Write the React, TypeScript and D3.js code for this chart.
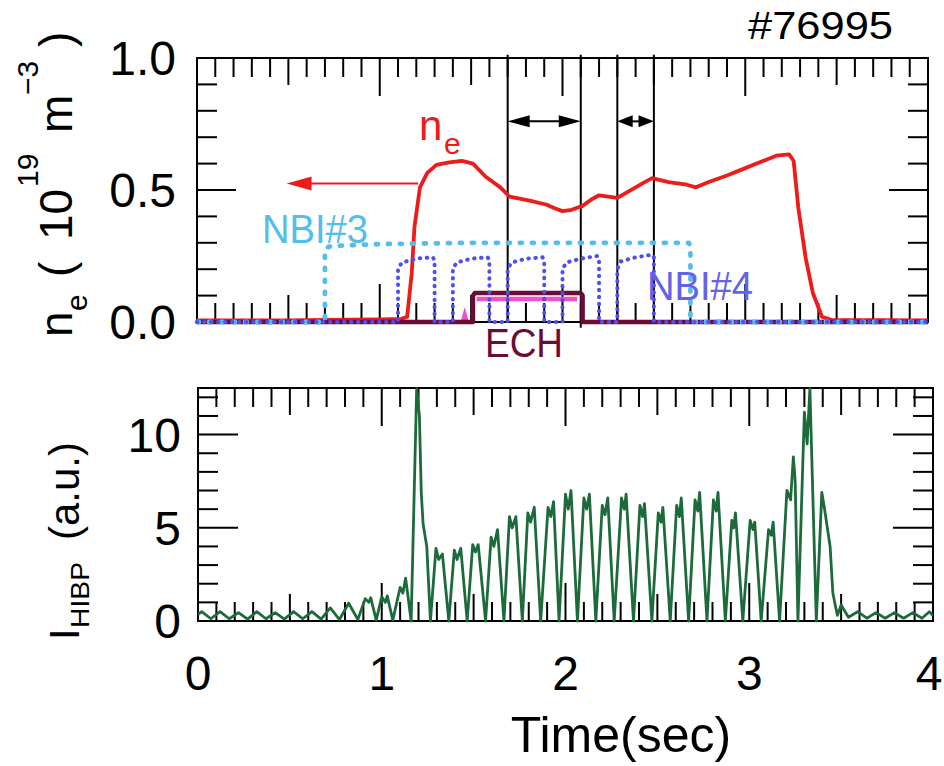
import React from "react";
import * as d3 from "d3";

const FONT = "'Liberation Sans', Arial, Helvetica, sans-serif";

// ---------- data (top panel) ----------
const neTime = [0, 0.5, 0.7, 1.0, 1.12, 1.15, 1.175, 1.19, 1.22, 1.26, 1.31, 1.38, 1.45, 1.51, 1.58, 1.66, 1.71, 1.82, 1.91, 1.96, 2.0, 2.05, 2.11, 2.16, 2.2, 2.25, 2.3, 2.35, 2.4, 2.45, 2.49, 2.58, 2.68, 2.73, 2.8, 2.9, 2.99, 3.08, 3.17, 3.24, 3.265, 3.29, 3.33, 3.37, 3.42, 3.47, 4.0];
const neValue = [0.006, 0.006, 0.008, 0.01, 0.012, 0.02, 0.185, 0.36, 0.51, 0.565, 0.595, 0.605, 0.61, 0.6, 0.55, 0.51, 0.475, 0.46, 0.445, 0.43, 0.42, 0.425, 0.44, 0.465, 0.48, 0.475, 0.47, 0.49, 0.51, 0.53, 0.545, 0.53, 0.52, 0.51, 0.53, 0.555, 0.58, 0.605, 0.63, 0.635, 0.61, 0.435, 0.245, 0.11, 0.02, 0.008, 0.006];

const nbi3Time = [0, 0.7, 0.7, 0.72, 0.8, 1.0, 1.5, 2.69, 2.7, 2.7, 4.0];
const nbi3Value = [0, 0, 0.27, 0.285, 0.29, 0.295, 0.3, 0.3, 0.29, 0, 0];

const nbi4Time = [0, 1.1, 1.1, 1.12, 1.2, 1.29, 1.3, 1.3, 1.4, 1.4, 1.42, 1.5, 1.59, 1.6, 1.6, 1.7, 1.7, 1.72, 1.8, 1.89, 1.9, 1.9, 2.0, 2.0, 2.02, 2.1, 2.19, 2.2, 2.2, 2.3, 2.3, 2.32, 2.4, 2.49, 2.5, 2.5, 4.0];
const nbi4Value = [0, 0, 0.2, 0.225, 0.24, 0.245, 0.235, 0, 0, 0.2, 0.225, 0.24, 0.245, 0.235, 0, 0, 0.2, 0.225, 0.24, 0.245, 0.235, 0, 0, 0.2, 0.225, 0.24, 0.25, 0.24, 0, 0, 0.2, 0.23, 0.245, 0.255, 0.245, 0, 0];

const echTime = [0, 1.51, 1.51, 1.52, 2.1, 2.11, 2.11, 4.0];
const echValue = [0, 0, 0.1, 0.11, 0.11, 0.1, 0, 0];

// pink trace: a small blip, then the plateau (null = gap)
const pinkTime = [1.455, 1.465, 1.475, 1.5, 1.53, 2.08];
const pinkValue = [0, 0.025, 0, null, 0.087, 0.087];

const markerTimes = [1.7, 2.1, 2.3, 2.5];
const spanStart = [1.7, 2.3];
const spanEnd = [2.1, 2.5];
const spanLevel = 0.76;
const neArrowFrom = 1.21;
const neArrowTo = 0.49;
const neArrowLevel = 0.525;

// ---------- data (bottom panel) ----------
const hibpTime = [
  0.0, 0.02, 0.07, 0.12, 0.17, 0.22, 0.27, 0.32, 0.37, 0.42, 0.47, 0.52, 0.57, 0.62, 0.67, 0.72, 0.77, 0.82, 0.87, 0.91, 0.93, 0.94, 0.97, 1.0, 1.02, 1.03, 1.06, 1.1, 1.115, 1.13, 1.16, 1.19, 1.205, 1.215, 1.225, 1.245, 1.265,
  1.295, 1.31, 1.33, 1.365,
  1.395, 1.41, 1.43, 1.465,
  1.495, 1.51, 1.525, 1.565,
  1.595, 1.61, 1.63, 1.665,
  1.695, 1.71, 1.73, 1.765,
  1.795, 1.81, 1.83, 1.865,
  1.905, 1.92, 1.935, 1.965,
  2.0, 2.015, 2.03, 2.065,
  2.1, 2.115, 2.13, 2.165,
  2.2, 2.215, 2.23, 2.265,
  2.305, 2.32, 2.33, 2.37,
  2.405, 2.42, 2.43, 2.47,
  2.505, 2.52, 2.53, 2.57,
  2.605, 2.62, 2.63, 2.67,
  2.705, 2.72, 2.73, 2.77,
  2.805, 2.82, 2.83, 2.87,
  2.905, 2.915, 2.925, 2.965,
  3.005, 3.02, 3.03, 3.065,
  3.105, 3.12, 3.13, 3.165,
  3.205, 3.225, 3.24, 3.25, 3.265,
  3.3, 3.315, 3.33, 3.365,
  3.395, 3.41, 3.44, 3.455, 3.47,
  3.48, 3.5, 3.54, 3.59, 3.64, 3.69, 3.74, 3.79, 3.84, 3.89, 3.94, 3.98, 4.0,
];
const hibpValue = [
  0.35, 0.5, 0.12, 0.5, 0.12, 0.45, 0.1, 0.5, 0.12, 0.45, 0.1, 0.5, 0.12, 0.5, 0.1, 0.7, 0.08, 0.95, 0.08, 1.2, 1.0, 1.25, 0.05, 1.3, 1.0, 1.35, 0.05, 1.8, 1.5, 2.3, 0.0, 12.45, 11.0, 6.9, 5.2, 4.0, 0.0,
  3.9, 3.3, 3.6, 0,
  3.8, 3.3, 3.9, 0,
  4.1, 3.7, 4.1, 0,
  4.5, 4.0, 4.9, 0,
  5.6, 5.0, 5.6, 0,
  5.8, 5.3, 6.1, 0,
  6.1, 5.6, 6.4, 0,
  6.8, 6.0, 7.0, 0,
  6.6, 6.0, 6.8, 0,
  6.2, 5.7, 6.6, 0,
  6.6, 6.0, 6.8, 0,
  6.2, 5.6, 6.3, 0,
  5.8, 5.3, 6.1, 0,
  6.2, 5.6, 6.6, 0,
  6.5, 5.9, 6.9, 0,
  6.5, 5.9, 6.9, 0,
  5.4, 5.0, 5.8, 0,
  5.4, 4.9, 5.3, 0,
  4.9, 4.6, 5.3, 0,
  7.0, 6.5, 8.8, 7.5, 0,
  11.2, 9.5, 12.45, 0,
  6.9, 6.0, 4.0, 1.5, 0.75,
  0.3, 0.86, 0.2, 0.5, 0.15, 0.45, 0.15, 0.45, 0.15, 0.45, 0.15, 0.5, 0.3,
];

// ---------- ticks ----------
const xTickLabels = ["0", "1", "2", "3", "4"];
const topYTickLabels = ["0.0", "0.5", "1.0"];
const bottomYTickLabels = ["0", "5", "10"];

const C_RED = "#ee1b1b";
const C_NBI3 = "#55bdea";
const C_NBI4 = "#4f4ff0";
const C_ECH = "#6a0c34";
const C_PINK = "#f050c8";
const C_GREEN = "#1d6b3b";

function zip(t: number[], v: (number | null)[]): [number, number | null][] {
  return t.map((d, i) => [d, v[i]]);
}

export default function App() {
  // top panel
  const xT = d3.scaleLinear().domain([0, 4]).range([197, 928]);
  const yT = d3.scaleLinear().domain([0, 1]).range([322, 58]);
  // bottom panel
  const xB = d3.scaleLinear().domain([0, 4]).range([198, 933]);
  const yB = d3.scaleLinear().domain([0, 12.5]).range([621, 388]);

  const lineT = d3
    .line<[number, number | null]>()
    .defined((d) => d[1] !== null)
    .x((d) => xT(d[0]))
    .y((d) => yT(d[1] as number));
  const lineB = d3
    .line<[number, number | null]>()
    .x((d) => xB(d[0]))
    .y((d) => yB(d[1] as number));

  const xMinor = d3.range(0, 40.5, 1).map((k) => k / 10);
  const xLen = (t: number) => {
    const k = Math.round(t * 10);
    if (k % 10 === 0) return 38;
    if (k % 5 === 0) return 27;
    return 19;
  };
  const yTopTicks = d3.range(0, 10.5, 1).map((k) => k / 10);
  const yTopLen = (v: number) => (Math.round(v * 10) % 5 === 0 ? 39 : 20);
  const yBotTicks = d3.range(0, 13, 1).filter((v) => v <= 12.5);
  const yBotLen = (v: number) => (v % 5 === 0 ? 40 : 20);

  const axisStroke = { stroke: "#000", strokeWidth: 2 };

  const renderBox = (
    x: d3.ScaleLinear<number, number>,
    y: d3.ScaleLinear<number, number>,
    yTicks: number[],
    yLen: (v: number) => number,
    key: string
  ) => {
    const [x0, x1] = x.range();
    const [y0, y1] = y.range();
    return (
      <g key={key}>
        <rect x={x0} y={y1} width={x1 - x0} height={y0 - y1} fill="none" {...axisStroke} />
        {xMinor.map((t, i) => (
          <g key={"xt" + i}>
            <line x1={x(t)} x2={x(t)} y1={y1} y2={y1 + xLen(t)} {...axisStroke} />
            <line x1={x(t)} x2={x(t)} y1={y0} y2={y0 - xLen(t)} {...axisStroke} />
          </g>
        ))}
        {yTicks.map((v, i) => (
          <g key={"yt" + i}>
            <line x1={x0} x2={x0 + yLen(v)} y1={y(v)} y2={y(v)} {...axisStroke} />
            <line x1={x1} x2={x1 - yLen(v)} y1={y(v)} y2={y(v)} {...axisStroke} />
          </g>
        ))}
      </g>
    );
  };

  const doubleArrow = (a: number, b: number, lvl: number, i: number) => {
    const xa = xT(a);
    const xb = xT(b);
    const yy = yT(lvl);
    const w = xb - xa;
    const hl = Math.min(22, w * 0.42);
    const hh = 6;
    return (
      <g key={"da" + i}>
        <line x1={xa + hl - 2} x2={xb - hl + 2} y1={yy} y2={yy} stroke="#000" strokeWidth={2} />
        <polygon points={`${xa},${yy} ${xa + hl},${yy - hh} ${xa + hl},${yy + hh}`} fill="#000" />
        <polygon points={`${xb},${yy} ${xb - hl},${yy - hh} ${xb - hl},${yy + hh}`} fill="#000" />
      </g>
    );
  };

  const ax1 = xT(neArrowFrom);
  const ax0 = xT(neArrowTo);
  const ay = yT(neArrowLevel);

  return (
    <svg
      width={944}
      height={766}
      viewBox="0 0 944 766"
      style={{ position: "absolute", left: 0, top: 0, background: "#fff", fontFamily: FONT }}
    >
      <rect x={0} y={0} width={944} height={766} fill="#fff" />
      <defs>
        <clipPath id="clipB">
          <rect x={198} y={386} width={735} height={237} />
        </clipPath>
      </defs>

      {/* ---------- TOP PANEL ---------- */}
      {renderBox(xT, yT, yTopTicks, yTopLen, "boxT")}
      {markerTimes.map((t, i) => (
        <line key={"ml" + i} x1={xT(t)} x2={xT(t)} y1={yT(1.012)} y2={yT(t === 2.1 ? -0.022 : -0.002)} stroke="#000" strokeWidth={2} />
      ))}
      {spanStart.map((a, i) => doubleArrow(a, spanEnd[i], spanLevel, i))}

      <path d={lineT(zip(pinkTime, pinkValue)) || ""} fill="none" stroke={C_PINK} strokeWidth={4.5} />
      <path d={lineT(zip(neTime, neValue)) || ""} fill="none" stroke={C_RED} strokeWidth={3.8} strokeLinejoin="round" />
      <path d={lineT(zip(echTime, echValue)) || ""} fill="none" stroke={C_ECH} strokeWidth={4.5} strokeLinejoin="round" />
      <path
        d={lineT(zip(nbi3Time, nbi3Value)) || ""}
        fill="none"
        stroke={C_NBI3}
        strokeWidth={4.8}
        strokeDasharray="2 10"
        strokeLinecap="round"
      />
      <path
        d={lineT(zip(nbi4Time, nbi4Value)) || ""}
        fill="none"
        stroke={C_NBI4}
        strokeWidth={4}
        strokeDasharray="0.5 6.5"
        strokeLinecap="round"
      />

      {/* n_e arrow */}
      <line x1={ax1} x2={ax0 + 22} y1={ay} y2={ay} stroke={C_RED} strokeWidth={2} />
      <polygon points={`${ax0},${ay} ${ax0 + 25},${ay - 7} ${ax0 + 25},${ay + 7}`} fill={C_RED} />

      {/* labels top */}
      <text x={419} y={140} fontSize={42} fill={C_RED}>n</text>
      <text x={444} y={154} fontSize={30} fill={C_RED}>e</text>
      <text x={262} y={243} fontSize={40} fill={C_NBI3} textLength={106} lengthAdjust="spacingAndGlyphs">NBI#3</text>
      <text x={647} y={300} fontSize={40} fill="#6262ea" textLength={106} lengthAdjust="spacingAndGlyphs">NBI#4</text>
      <text x={485} y={357} fontSize={40} fill={C_ECH} textLength={78} lengthAdjust="spacingAndGlyphs">ECH</text>
      <text x={748} y={39} fontSize={38} fill="#000" textLength={145} lengthAdjust="spacingAndGlyphs">#76995</text>

      {topYTickLabels.map((s, i) => (
        <text key={"tyl" + i} x={176} y={yT(i * 0.5) + 17} fontSize={48} textAnchor="end">{s}</text>
      ))}

      <g transform="translate(72,337) rotate(-90)" fontSize={46}>
        <text x={0} y={0}>n</text>
        <text x={26} y={15} fontSize={30}>e</text>
        <text x={60} y={0}>(</text>
        <text x={97} y={0}>10</text>
        <text x={150} y={-34} fontSize={30}>19</text>
        <text x={204} y={0}>m</text>
        <text x={242} y={-34} fontSize={30}>−3</text>
        <text x={290} y={0}>)</text>
      </g>

      {/* ---------- BOTTOM PANEL ---------- */}
      {renderBox(xB, yB, yBotTicks, yBotLen, "boxB")}
      <g clipPath="url(#clipB)">
        <path d={lineB(zip(hibpTime, hibpValue)) || ""} fill="none" stroke={C_GREEN} strokeWidth={2.8} strokeLinejoin="round" />
      </g>

      {bottomYTickLabels.map((s, i) => (
        <text key={"byl" + i} x={181} y={yB(i * 5) + 17} fontSize={48} textAnchor="end">{s}</text>
      ))}
      {xTickLabels.map((s, i) => (
        <text key={"xl" + i} x={Math.min(xB(i), 929)} y={690} fontSize={48} textAnchor="middle">{s}</text>
      ))}
      <text x={621} y={752} fontSize={50} textAnchor="middle">Time(sec)</text>

      <g transform="translate(79,640) rotate(-90)" fontSize={42}>
        <text x={0} y={0}>I</text>
        <text x={12} y={10} fontSize={25} textLength={66} lengthAdjust="spacingAndGlyphs">HIBP</text>
        <text x={100} y={0}>(a.u.)</text>
      </g>
    </svg>
  );
}
